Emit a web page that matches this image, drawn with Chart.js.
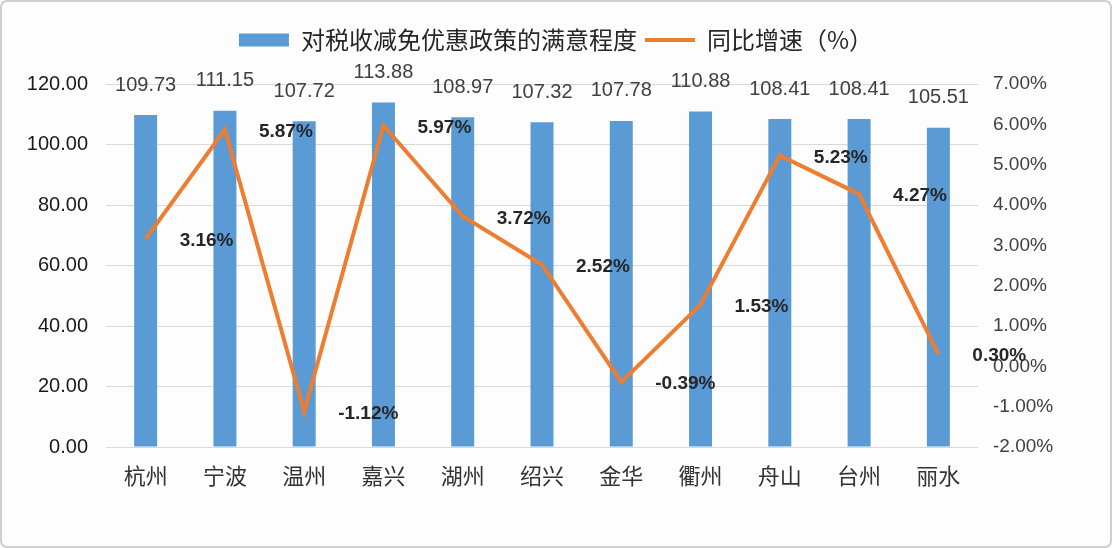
<!DOCTYPE html>
<html>
<head>
<meta charset="utf-8">
<script src="https://cdn.jsdelivr.net/npm/chart.js@4/dist/chart.umd.min.js"></script>
<style>
  html, body { margin: 0; padding: 0; background: #fff; }
  #wrap { width: 1112px; height: 548px; position: relative; }
</style>
</head>
<body>
<div id="wrap"><canvas id="chart" width="1112" height="548"></canvas></div>
<script>
  // Data
  const cities = ['杭州', '宁波', '温州', '嘉兴', '湖州', '绍兴', '金华', '衢州', '舟山', '台州', '丽水'];
  const satisfaction = [109.73, 111.15, 107.72, 113.88, 108.97, 107.32, 107.78, 110.88, 108.41, 108.41, 105.51];
  const growth = [3.16, 5.87, -1.12, 5.97, 3.72, 2.52, -0.39, 1.53, 5.23, 4.27, 0.30];
  const barLabel = '对税收减免优惠政策的满意程度';
  const lineLabel = '同比增速（%）';

  const cjk = '"Noto Sans CJK SC", "Noto Sans", sans-serif';
  const num = '"Liberation Sans", Arial, sans-serif';

  // Value labels: bar values above the bars, growth % to the right of the line
  const valueLabels = {
    id: 'valueLabels',
    afterDatasetsDraw(chart) {
      const ctx = chart.ctx;
      ctx.save();
      const barMeta = chart.getDatasetMeta(0);
      ctx.font = '20px ' + num;
      ctx.fillStyle = '#404040';
      ctx.textAlign = 'center';
      ctx.textBaseline = 'middle';
      barMeta.data.forEach((el, i) => {
        ctx.fillText(satisfaction[i].toFixed(2), el.x, el.y - 30);
      });
      const lineMeta = chart.getDatasetMeta(1);
      ctx.font = 'bold 19px ' + num;
      ctx.fillStyle = '#262626';
      ctx.textAlign = 'left';
      lineMeta.data.forEach((el, i) => {
        ctx.fillText(growth[i].toFixed(2) + '%', el.x + 34, el.y + 2);
      });
      ctx.restore();
    }
  };

  // Light frame around the whole picture
  const frame = {
    id: 'frame',
    beforeDraw(chart) {
      const ctx = chart.ctx;
      ctx.save();
      ctx.fillStyle = '#fdfdfd';
      ctx.fillRect(0, 0, chart.width, chart.height);
      ctx.strokeStyle = '#cfcfcf';
      ctx.lineWidth = 2;
      ctx.beginPath();
      ctx.roundRect(1, 1, chart.width - 2, chart.height - 2, 6);
      ctx.stroke();
      ctx.restore();
    }
  };

  // Extra room between the legend and the plot
  const legendGap = {
    id: 'legendGap',
    beforeInit(chart) {
      const lg = chart.legend;
      if (!lg) return;
      const fit = lg.fit;
      lg.fit = function () {
        fit.call(this);
        this.height += 22;
      };
    }
  };

  const ctx = document.getElementById('chart').getContext('2d');

  new Chart(ctx, {
    type: 'bar',
    data: {
      labels: cities,
      datasets: [
        {
          type: 'bar',
          label: barLabel,
          data: satisfaction,
          backgroundColor: '#5B9BD5',
          borderWidth: 0,
          categoryPercentage: 1,
          barPercentage: 0.29,
          yAxisID: 'y',
          order: 2
        },
        {
          type: 'line',
          label: lineLabel,
          data: growth,
          borderColor: '#ED7D31',
          backgroundColor: '#ED7D31',
          borderWidth: 4,
          pointRadius: 0,
          tension: 0,
          yAxisID: 'y1',
          order: 1
        }
      ]
    },
    options: {
      responsive: false,
      animation: false,
      devicePixelRatio: 1,
      layout: { padding: { top: 20, left: 0, right: 0, bottom: 0 } },
      plugins: {
        tooltip: { enabled: false },
        legend: {
          position: 'top',
          labels: {
            font: { family: cjk, size: 24 },
            color: '#262626',
            usePointStyle: true,
            pointStyleWidth: 50,
            boxHeight: 13,
            padding: 8,
            sort: (a, b) => a.datasetIndex - b.datasetIndex,
            generateLabels(chart) {
              const items = Chart.defaults.plugins.legend.labels.generateLabels(chart);
              items.forEach(it => {
                if (it.datasetIndex === 0) {
                  it.pointStyle = 'rect';
                  it.lineWidth = 0;
                } else {
                  it.pointStyle = 'line';
                  it.lineWidth = 4;
                  it.strokeStyle = '#ED7D31';
                }
              });
              return items;
            }
          }
        }
      },
      scales: {
        x: {
          grid: { display: false },
          border: { display: false },
          ticks: {
            font: { family: cjk, size: 22 },
            color: '#333333',
            padding: 7,
            maxRotation: 0
          },
          afterFit(scale) { scale.height = 101; }
        },
        y: {
          position: 'left',
          min: 0,
          max: 120,
          grid: { color: '#d9d9d9', lineWidth: 1, drawTicks: false },
          border: { display: false },
          ticks: {
            stepSize: 20,
            font: { family: num, size: 20 },
            color: '#1a1a1a',
            padding: 18,
            callback: v => v.toFixed(2)
          },
          afterFit(scale) { scale.width = 106; }
        },
        y1: {
          position: 'right',
          min: -2,
          max: 7,
          grid: { display: false, drawTicks: false },
          border: { display: false },
          ticks: {
            stepSize: 1,
            font: { family: num, size: 19 },
            color: '#404040',
            padding: 15,
            callback: v => v.toFixed(2) + '%'
          },
          afterFit(scale) { scale.width = 134; }
        }
      }
    },
    plugins: [frame, legendGap, valueLabels]
  });
</script>
</body>
</html>
